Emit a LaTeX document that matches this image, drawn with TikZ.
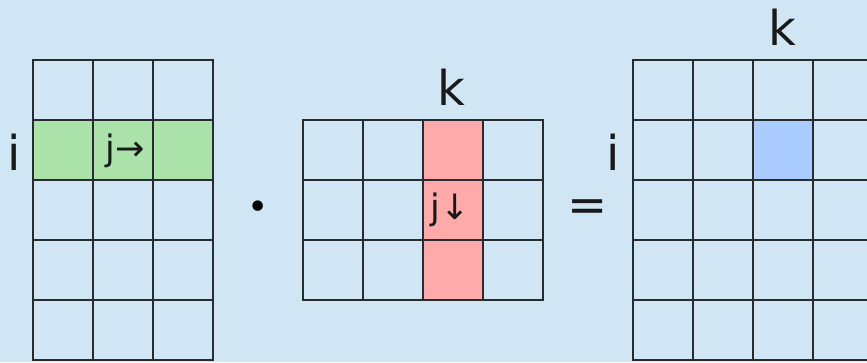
\documentclass[tikz,border=0pt]{standalone}
\usepackage{fontspec}
\setmainfont{DejaVu Sans}
\definecolor{bgc}{RGB}{208,230,244}
\definecolor{greenc}{RGB}{170,226,170}
\definecolor{redc}{RGB}{255,170,170}
\definecolor{bluec}{RGB}{170,204,255}
\definecolor{linec}{RGB}{40,44,48}
\begin{document}
\begin{tikzpicture}[x=1pt,y=-1pt,
  cell/.style={draw=linec, line width=1.5pt, minimum size=60pt, inner sep=0pt, anchor=north west},
  big/.style={font=\fontsize{48}{48}\selectfont, inner sep=0pt, anchor=base, text=black!90},
  small/.style={font=\fontsize{35}{35}\selectfont, inner sep=0pt, anchor=base, text=black!90}]
\useasboundingbox (0,0) rectangle (867,362);
\fill[bgc] (0,0) rectangle (867,362);
\begin{scope}
\clip (0,0) rectangle (867,362);
% fills
\fill[greenc] (32,119) rectangle (212,179);
\fill[redc] (422,119) rectangle (482,299);
\fill[bluec] (752,119) rectangle (812,179);
% left matrix 5x3
\foreach \r in {0,...,4} \foreach \c in {0,...,2}
  \node[cell] (A-\r-\c) at ({32+60*\c},{59+60*\r}) {};
% middle matrix 3x4
\foreach \r in {0,...,2} \foreach \c in {0,...,3}
  \node[cell] (B-\r-\c) at ({302+60*\c},{119+60*\r}) {};
% right matrix 5x4
\foreach \r in {0,...,4} \foreach \c in {0,...,3}
  \node[cell] (C-\r-\c) at ({632+60*\c},{59+60*\r}) {};
\end{scope}
% labels
\node[big] (iA) at (14,170) {i};
\node[small] (jA) at (125,160) {j→};
\node[big] (kB) at (451,105) {k};
\node[small] (jB) at (450,219) {j↓};
\node[font=\fontsize{36}{36}\selectfont, inner sep=0pt, text=black] (dot) at (258.5,210.5) {•};
\node[font=\fontsize{48}{48}\selectfont, inner sep=0pt, text=black!90] (eq) at (588,211) {=};
\node[big] (iC) at (613,170) {i};
\node[big] (kC) at (782,45) {k};
\end{tikzpicture}
\end{document}
